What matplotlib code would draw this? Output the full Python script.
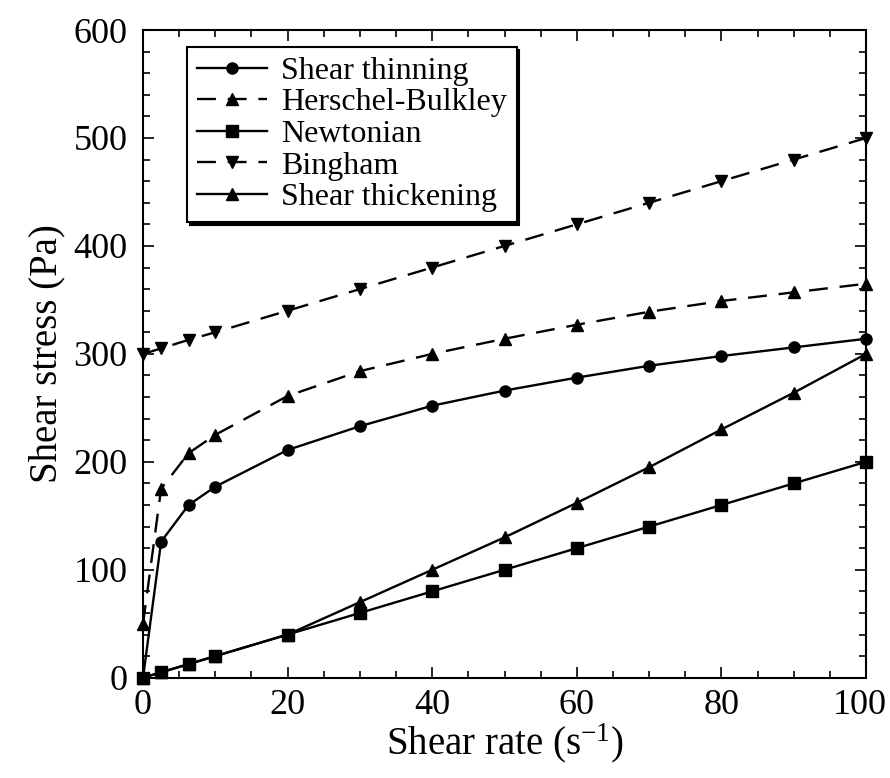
import matplotlib
matplotlib.use("Agg")
import matplotlib.pyplot as plt
from matplotlib.ticker import MultipleLocator
from matplotlib.transforms import ScaledTranslation

plt.rcParams['font.family'] = ['Liberation Serif', 'DejaVu Serif']
plt.rcParams['mathtext.default'] = 'regular'

# Shear rate (1/s) and shear stress (Pa)
shear_rate = [0, 2.5, 6.3, 10, 20, 30, 40, 50, 60, 70, 80, 90, 100]
shear_thinning = [0, 126, 160, 177, 211, 233, 252, 266, 278, 289, 298, 306, 314]
herschel_bulkley = [50, 175, 208, 225, 261, 284, 300, 314, 327, 339, 349, 357, 365]
newtonian = [0, 5, 12.6, 20, 40, 60, 80, 100, 120, 140, 160, 180, 200]
bingham = [300, 305, 313, 320, 340, 360, 380, 400, 420, 440, 460, 480, 500]
shear_thickening = [0, 5, 12.6, 20, 40, 70, 100, 130, 162, 195, 230, 264, 300]

dash = (0, (8, 5))
series = [
    ('Shear thinning', shear_thinning, 'o', '-', 8),
    ('Herschel-Bulkley', herschel_bulkley, '^', dash, 8.5),
    ('Newtonian', newtonian, 's', '-', 8),
    ('Bingham', bingham, 'v', dash, 8.5),
    ('Shear thickening', shear_thickening, '^', '-', 8.5),
]

fig = plt.figure(figsize=(8.9, 7.78), dpi=100)
ax = fig.add_axes([0.1607, 0.1289, 0.8124, 0.8325])

for label, values, marker, ls, ms in series:
    ax.plot(shear_rate, values, color='black', linestyle=ls, linewidth=1.7,
            marker=marker, markersize=ms, label=label, clip_on=False, zorder=3)

ax.set_xlim(0, 100)
ax.set_ylim(0, 600)
ax.xaxis.set_major_locator(MultipleLocator(20))
ax.xaxis.set_minor_locator(MultipleLocator(5))
ax.yaxis.set_major_locator(MultipleLocator(100))
ax.yaxis.set_minor_locator(MultipleLocator(20))
ax.tick_params(which='both', direction='in', top=True, right=True,
               width=1.2, labelsize=26)
ax.tick_params(which='major', length=8)
ax.tick_params(which='minor', length=5)
ax.tick_params(axis='x', pad=8)
ax.tick_params(axis='y', pad=11)
for sp in ax.spines.values():
    sp.set_linewidth(1.5)

ax.set_xlabel('Shear rate (s$^{-1}$)', fontsize=28, labelpad=0)
ax.set_ylabel('Shear stress (Pa)', fontsize=28, labelpad=6)

leg = ax.legend(loc='upper left', bbox_to_anchor=(0.061, 0.974),
                borderaxespad=0, fontsize=23, frameon=True, fancybox=False,
                framealpha=1, edgecolor='black',
                shadow={'color': 'black', 'alpha': 1},
                handlelength=2.2, handletextpad=0.45, labelspacing=0.07,
                borderpad=0.3)
leg.get_frame().set_linewidth(1.5)

# nudge the "100" label left so it stays inside the figure, as in the original
fig.canvas.draw()
locs = list(ax.xaxis.get_majorticklocs())
last = ax.xaxis.get_major_ticks()[locs.index(100)].label1
last.set_transform(last.get_transform() + ScaledTranslation(-0.06, 0, fig.dpi_scale_trans))

fig.savefig('out.png', dpi=100)
